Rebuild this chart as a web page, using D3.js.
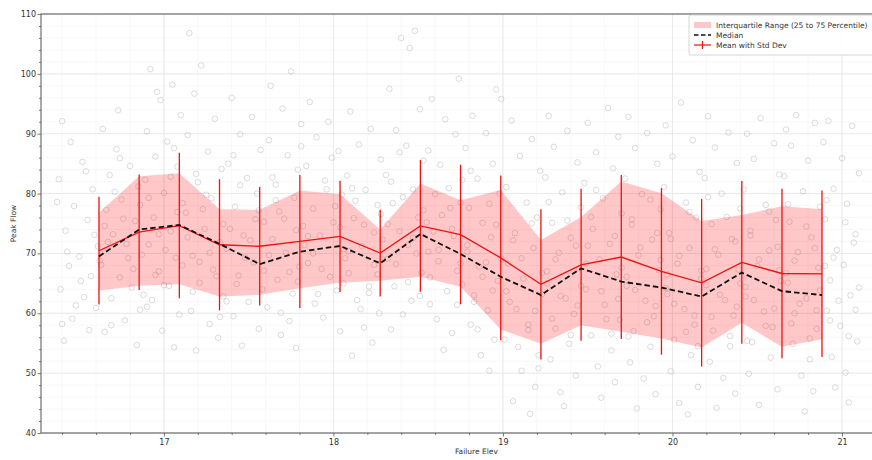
<!DOCTYPE html>
<html><head><meta charset="utf-8">
<script src="https://cdn.jsdelivr.net/npm/d3@7"></script>
<style>
html,body{margin:0;padding:0;background:#fff;}
svg{display:block;font-family:"DejaVu Sans",sans-serif;}
</style></head>
<body><svg id="chart" width="872" height="460"></svg>
<script>
// ---- data ----
const binCenters = [16.617,16.854,17.091,17.328,17.565,17.802,18.039,18.276,18.513,18.750,18.987,19.224,19.461,19.698,19.935,20.172,20.409,20.646,20.882];
const meanVals   = [70.45,73.55,74.65,71.45,71.2,72.0,72.85,70.05,74.6,73.15,69.25,64.85,68.1,69.4,67.0,65.1,68.5,66.65,66.6];
const stdVals    = [9.0,9.65,12.15,10.95,9.9,11.1,9.3,7.25,11.0,11.65,13.75,12.55,12.7,13.7,13.9,14.0,13.6,14.15,13.9];
const medianVals = [69.5,74.0,74.75,71.6,68.2,70.3,71.25,68.35,73.25,69.9,66.1,63.05,67.5,65.3,64.3,62.8,66.8,63.7,63.05];
const q1Vals     = [63.8,64.6,64.85,62.8,63.1,64.2,65.1,65.45,66.1,64.45,57.3,54.9,58.0,56.9,55.8,54.3,58.4,54.4,55.65];
const q3Vals     = [76.8,82.9,83.4,77.4,77.3,80.5,79.9,74.0,81.7,78.9,80.6,72.25,76.1,82.0,80.05,75.4,76.4,77.9,77.4];
const xTicks = [17,18,19,20,21];
const yTicks = [40,50,60,70,80,90,100,110];
const legendLabels = ["Interquartile Range (25 to 75 Percentile)","Median","Mean with Std Dev"];
const points = [
[16.40,92.1],[16.45,88.6],[16.52,85.3],[16.38,82.4],[16.58,80.7],[16.47,77.9],[16.55,75.6],[16.42,73.8],[16.61,71.2],[16.50,69.5],[16.44,67.9],[16.57,66.2],[16.39,64.0],[16.53,62.7],[16.60,60.9],[16.46,59.1],[16.56,57.2],[16.41,55.4],
[16.64,90.8],[16.72,87.4],[16.80,84.6],[16.68,83.1],[16.85,81.2],[16.75,79.0],[16.66,77.3],[16.83,75.4],[16.70,73.2],[16.78,71.6],[16.87,69.8],[16.63,68.1],[16.74,66.0],[16.81,64.3],[16.69,62.5],[16.86,60.6],[16.77,58.8],[16.65,56.9],[16.84,54.7],[16.73,93.9],
[16.92,100.8],[17.05,98.2],[16.98,95.6],[17.10,93.1],[16.90,90.4],[17.02,88.7],[16.95,86.2],[17.08,84.5],[16.89,82.3],[17.00,80.1],[17.11,78.4],[16.94,76.0],[17.04,73.7],[16.91,71.5],[17.07,69.3],[16.97,67.0],[17.03,64.6],[16.93,62.2],[17.09,59.8],[16.99,57.1],[17.06,54.3],[16.96,97.0],
[17.15,106.8],[17.22,101.4],[17.18,96.7],[17.30,92.5],[17.14,89.8],[17.26,87.0],[17.34,84.1],[17.20,81.9],[17.28,79.2],[17.13,76.8],[17.24,74.1],[17.33,71.9],[17.17,69.6],[17.29,67.3],[17.21,65.1],[17.35,62.8],[17.16,60.4],[17.27,58.2],[17.32,55.9],[17.19,53.8],
[17.40,96.0],[17.52,92.8],[17.45,89.9],[17.57,87.3],[17.38,85.0],[17.49,82.6],[17.55,80.0],[17.42,77.8],[17.59,75.3],[17.47,73.0],[17.37,70.8],[17.53,68.5],[17.44,66.3],[17.58,64.0],[17.50,61.9],[17.41,59.5],[17.56,57.4],[17.46,54.6],
[17.63,98.0],[17.75,100.4],[17.70,94.2],[17.81,91.6],[17.62,88.9],[17.73,86.4],[17.79,84.0],[17.66,81.5],[17.77,79.3],[17.68,77.0],[17.82,74.6],[17.64,72.4],[17.72,70.1],[17.80,67.8],[17.67,65.6],[17.76,63.3],[17.61,61.0],[17.74,58.7],[17.69,56.4],[17.78,54.2],
[17.86,95.3],[17.97,92.0],[17.90,89.4],[18.03,87.1],[17.84,84.6],[17.95,82.2],[18.05,79.8],[17.88,77.5],[18.00,75.2],[17.92,73.0],[18.06,70.7],[17.85,68.4],[17.98,66.1],[18.02,63.8],[17.89,61.6],[17.94,59.3],[18.04,57.0],
[18.10,93.7],[18.22,90.8],[18.15,88.2],[18.28,85.7],[18.08,83.0],[18.19,80.6],[18.26,78.1],[18.12,75.9],[18.24,73.5],[18.17,71.2],[18.29,69.0],[18.09,66.7],[18.21,64.5],[18.14,62.2],[18.27,60.0],[18.18,57.6],[18.23,55.1],[18.11,52.9],
[18.40,106.0],[18.48,107.2],[18.45,104.3],[18.33,97.5],[18.51,94.1],[18.37,90.6],[18.43,88.0],[18.53,85.5],[18.31,83.1],[18.47,80.7],[18.35,78.4],[18.50,76.0],[18.39,73.7],[18.44,71.4],[18.32,69.1],[18.52,66.8],[18.36,64.5],[18.46,62.1],[18.41,59.8],[18.34,57.3],
[18.74,99.2],[18.58,95.8],[18.66,92.4],[18.72,89.9],[18.56,87.2],[18.63,84.8],[18.76,82.3],[18.60,79.9],[18.69,77.6],[18.55,75.2],[18.71,72.9],[18.62,70.6],[18.75,68.3],[18.57,66.0],[18.67,63.7],[18.73,61.4],[18.61,59.0],[18.70,56.7],[18.65,53.9],
[18.96,97.4],[18.99,95.8],[18.82,93.0],[18.90,90.1],[18.78,87.6],[18.94,85.0],[18.85,82.5],[18.98,80.0],[18.80,77.6],[18.88,75.1],[18.93,72.7],[18.79,70.3],[18.86,67.8],[18.97,65.4],[18.83,63.0],[18.91,60.5],[18.81,58.1],[18.95,55.6],[18.87,53.0],[18.92,50.4],
[19.05,92.2],[19.17,89.1],[19.10,86.3],[19.22,83.8],[19.02,81.1],[19.14,78.5],[19.20,76.0],[19.07,73.4],[19.18,70.9],[19.03,68.3],[19.12,65.8],[19.23,63.2],[19.08,60.7],[19.15,58.1],[19.01,55.6],[19.21,53.0],[19.11,50.4],[19.19,47.7],[19.06,45.3],[19.16,43.2],
[19.27,93.0],[19.38,90.5],[19.30,87.8],[19.44,85.2],[19.25,82.7],[19.35,80.2],[19.46,77.7],[19.29,75.1],[19.40,72.6],[19.33,70.1],[19.45,67.5],[19.26,65.0],[19.37,62.5],[19.42,59.9],[19.31,57.4],[19.39,54.9],[19.28,52.3],[19.43,49.6],[19.34,46.8],[19.36,44.5],
[19.62,94.3],[19.50,91.8],[19.68,89.5],[19.55,86.9],[19.65,84.2],[19.48,81.8],[19.59,79.2],[19.70,76.7],[19.53,74.1],[19.63,71.6],[19.57,69.0],[19.67,66.5],[19.49,64.0],[19.60,61.4],[19.69,58.9],[19.52,56.3],[19.64,53.8],[19.56,51.1],[19.66,48.5],[19.58,45.9],
[19.74,92.8],[19.85,90.1],[19.78,87.6],[19.91,85.0],[19.72,82.5],[19.82,79.9],[19.93,77.4],[19.76,74.8],[19.88,72.3],[19.80,69.7],[19.92,67.2],[19.73,64.6],[19.84,62.1],[19.89,59.5],[19.77,57.0],[19.87,54.4],[19.75,51.8],[19.83,49.1],[19.90,46.5],[19.79,44.1],
[20.05,95.2],[19.96,91.4],[20.12,88.9],[20.00,86.2],[20.16,83.6],[19.95,81.1],[20.08,78.5],[20.14,76.0],[19.98,73.4],[20.10,70.9],[20.03,68.3],[20.17,65.8],[19.97,63.2],[20.07,60.7],[20.13,58.1],[20.01,55.6],[20.11,53.0],[19.99,50.3],[20.15,47.7],[20.04,45.0],[20.09,43.1],
[20.21,92.9],[20.33,90.2],[20.25,87.7],[20.38,85.1],[20.19,82.6],[20.29,80.0],[20.40,77.5],[20.23,74.9],[20.35,72.4],[20.27,69.8],[20.39,67.3],[20.20,64.7],[20.31,62.2],[20.36,59.6],[20.24,57.1],[20.34,54.5],[20.22,51.9],[20.30,49.2],[20.37,46.6],[20.26,44.2],
[20.52,92.6],[20.44,90.0],[20.60,88.4],[20.48,85.8],[20.63,83.2],[20.42,80.7],[20.55,78.1],[20.61,75.6],[20.46,73.0],[20.57,70.5],[20.50,67.9],[20.64,65.4],[20.43,62.8],[20.54,60.3],[20.59,57.7],[20.47,55.2],[20.58,52.6],[20.45,49.9],[20.62,47.3],[20.51,44.7],
[20.73,93.1],[20.67,90.7],[20.84,91.8],[20.70,88.0],[20.80,85.5],[20.66,82.9],[20.77,80.4],[20.87,77.8],[20.69,75.3],[20.82,72.7],[20.74,70.2],[20.86,67.6],[20.68,65.1],[20.79,62.5],[20.72,60.0],[20.85,57.4],[20.71,54.9],[20.81,52.3],[20.76,49.6],[20.83,47.0],[20.78,43.6],
[20.92,92.1],[21.06,91.3],[20.89,88.6],[21.00,85.9],[21.10,83.4],[20.95,80.8],[21.03,78.3],[20.90,75.7],[21.08,73.2],[20.97,70.6],[21.01,68.1],[20.93,65.5],[21.05,63.0],[20.91,60.4],[20.99,57.9],[21.09,55.3],[20.94,52.7],[21.02,50.1],[20.96,47.6],[21.04,45.1],
[16.43,70.3],[16.51,65.4],[16.59,73.1],[16.37,78.6],[16.48,61.3],[16.54,83.7],[16.62,68.8],[16.40,58.2],
[16.67,71.9],[16.76,75.8],[16.82,67.4],[16.71,80.3],[16.88,63.1],[16.65,74.6],[16.79,69.2],[16.74,85.9],[16.86,78.1],[16.69,58.0],
[16.91,79.3],[17.01,70.6],[17.08,76.9],[16.95,66.4],[17.04,82.8],[16.97,73.2],[17.11,68.0],[16.90,61.1],[17.06,87.6],[17.00,64.7],
[17.14,72.7],[17.23,77.4],[17.31,66.2],[17.19,83.3],[17.35,74.9],[17.27,70.1],[17.17,63.6],[17.25,79.8],[17.33,59.4],[17.21,68.6],
[17.39,74.1],[17.48,69.3],[17.56,77.2],[17.43,64.9],[17.51,72.2],[17.59,67.1],[17.45,81.4],[17.37,62.0],[17.54,75.7],[17.41,86.4],
[17.62,69.7],[17.71,75.8],[17.79,65.3],[17.66,78.9],[17.83,71.4],[17.74,66.9],[17.64,82.7],[17.78,73.9],[17.69,60.1],[17.81,87.9],
[17.85,72.9],[17.93,67.4],[18.01,77.9],[17.88,70.0],[18.06,65.0],[17.96,80.7],[18.04,74.4],[17.91,63.2],[17.99,86.0],[18.07,69.2],
[18.09,70.4],[18.18,74.8],[18.26,66.5],[18.13,78.8],[18.29,72.3],[18.21,63.4],[18.11,80.9],[18.24,68.1],[18.16,60.7],[18.28,76.6],
[18.32,74.9],[18.41,79.4],[18.49,70.0],[18.37,68.2],[18.53,77.2],[18.44,65.2],[18.34,82.0],[18.47,72.6],[18.39,86.9],[18.51,62.9],
[18.56,70.3],[18.64,76.4],[18.73,67.1],[18.59,73.7],[18.68,80.9],[18.76,64.8],[18.62,68.7],[18.70,74.1],[18.57,61.5],[18.75,78.5],
[18.79,71.4],[18.88,66.1],[18.96,74.8],[18.83,61.9],[18.92,78.3],[18.99,69.1],[18.85,57.3],[18.94,63.8],[18.81,83.8],[18.90,68.5],
[19.02,63.7],[19.11,69.2],[19.19,60.4],[19.06,72.2],[19.15,57.2],[19.23,66.7],[19.09,54.4],[19.17,75.0],[19.04,61.9],[19.21,50.8],
[19.26,67.0],[19.34,62.9],[19.43,71.3],[19.29,59.1],[19.38,75.5],[19.46,64.6],[19.31,69.0],[19.40,56.4],[19.27,78.6],[19.44,61.3],
[19.49,68.3],[19.58,63.7],[19.66,72.9],[19.52,76.1],[19.61,59.0],[19.70,67.6],[19.55,80.6],[19.64,56.6],[19.50,71.3],[19.68,62.4],
[19.73,66.1],[19.81,71.0],[19.90,61.2],[19.76,75.7],[19.85,58.5],[19.93,68.9],[19.78,63.9],[19.87,79.0],[19.74,56.1],[19.91,73.4],
[19.96,64.2],[20.04,69.6],[20.13,59.6],[19.99,72.4],[20.08,56.9],[20.17,67.1],[20.01,61.6],[20.10,76.9],[19.97,66.5],[20.15,54.5],
[20.20,67.4],[20.28,63.1],[20.37,72.0],[20.23,59.4],[20.32,76.1],[20.40,65.0],[20.25,70.7],[20.34,56.2],[20.21,79.4],[20.38,61.1],
[20.43,64.4],[20.51,69.0],[20.60,60.8],[20.46,73.8],[20.55,57.9],[20.63,67.2],[20.48,62.2],[20.57,77.0],[20.44,55.4],[20.62,71.1],
[20.67,66.7],[20.75,61.6],[20.84,70.9],[20.70,58.3],[20.79,74.5],[20.87,63.8],[20.72,68.8],[20.81,55.8],[20.68,78.2],[20.85,60.5],
[20.90,67.9],[20.98,62.1],[21.07,71.8],[20.93,58.8],[21.02,75.2],[21.10,64.3],[20.95,69.3],[21.04,56.2],[20.91,78.9],[21.08,60.6]
];

// ---- layout ----
const svg = d3.select("#chart");
const L = 41, T = 14, R = 880, B = 433;
const x = d3.scaleLinear().domain([16.275, 21.0]).range([L, 842]);
const y = d3.scaleLinear().domain([40, 110]).range([B, T]);
const xMax = x.invert(R);
const bins = binCenters.map((c,i)=>({x:c, mean:meanVals[i], std:stdVals[i], med:medianVals[i], q1:q1Vals[i], q3:q3Vals[i]}));

const defs = svg.append("defs");
defs.append("clipPath").attr("id","clip").append("rect").attr("x",L).attr("y",T).attr("width",R-L).attr("height",B-T);

// grid
const g = svg.append("g");
const xMinor = d3.range(16.4, xMax, 0.2).map(v=>+v.toFixed(2));
const yMinor = d3.range(40, 110.01, 2);
g.selectAll(".gxm").data(xMinor).join("line").attr("x1",d=>x(d)).attr("x2",d=>x(d)).attr("y1",T).attr("y2",B).attr("stroke","#f3f3f3").attr("stroke-width",0.6);
g.selectAll(".gym").data(yMinor).join("line").attr("x1",L).attr("x2",R).attr("y1",d=>y(d)).attr("y2",d=>y(d)).attr("stroke","#f3f3f3").attr("stroke-width",0.6);
g.selectAll(".gx").data(xTicks).join("line").attr("x1",d=>x(d)).attr("x2",d=>x(d)).attr("y1",T).attr("y2",B).attr("stroke","#e4e4e4").attr("stroke-width",0.8);
g.selectAll(".gy").data(yTicks).join("line").attr("x1",L).attr("x2",R).attr("y1",d=>y(d)).attr("y2",d=>y(d)).attr("stroke","#e4e4e4").attr("stroke-width",0.8);

const plot = svg.append("g").attr("clip-path","url(#clip)");
// scatter
plot.append("g").selectAll("circle").data(points).join("circle")
  .attr("cx",d=>x(d[0])).attr("cy",d=>y(d[1])).attr("r",2.8)
  .attr("fill","none").attr("stroke","#8a8a8a").attr("stroke-opacity",0.38).attr("stroke-width",0.8);

// IQR band
plot.append("path").datum(bins)
  .attr("d", d3.area().x(d=>x(d.x)).y0(d=>y(d.q1)).y1(d=>y(d.q3)))
  .attr("fill","#ff0000").attr("fill-opacity",0.22).attr("stroke","none");

// error bars
plot.append("g").selectAll("line").data(bins).join("line")
  .attr("x1",d=>x(d.x)).attr("x2",d=>x(d.x))
  .attr("y1",d=>y(d.mean-d.std)).attr("y2",d=>y(d.mean+d.std))
  .attr("stroke","#ee1111").attr("stroke-width",1.3);
// mean line
plot.append("path").datum(bins)
  .attr("d", d3.line().x(d=>x(d.x)).y(d=>y(d.mean)))
  .attr("fill","none").attr("stroke","#ee1111").attr("stroke-width",1.3);
// median
plot.append("path").datum(bins)
  .attr("d", d3.line().x(d=>x(d.x)).y(d=>y(d.med)))
  .attr("fill","none").attr("stroke","#111").attr("stroke-width",1.8).attr("stroke-dasharray","5.5,3");

// axes
const xAxis = svg.append("g").attr("transform",`translate(0,${B})`)
  .call(d3.axisBottom(x).tickValues(xTicks).tickFormat(d3.format("d")).tickSizeInner(3.5).tickSizeOuter(0));
const xAxisMinor = svg.append("g").attr("transform",`translate(0,${B})`)
  .call(d3.axisBottom(x).tickValues(xMinor.filter(v=>Math.abs(v-Math.round(v))>0.01)).tickFormat("").tickSizeInner(2).tickSizeOuter(0));
const yAxis = svg.append("g").attr("transform",`translate(${L},0)`)
  .call(d3.axisLeft(y).tickValues(yTicks).tickFormat(d3.format("d")).tickSizeInner(3.5).tickSizeOuter(0));
const yAxisMinor = svg.append("g").attr("transform",`translate(${L},0)`)
  .call(d3.axisLeft(y).tickValues(yMinor.filter(v=>v%10!==0)).tickFormat("").tickSizeInner(2).tickSizeOuter(0));
[xAxis,xAxisMinor,yAxis,yAxisMinor].forEach(a=>{
  a.select(".domain").remove();
  a.selectAll("line").attr("stroke","#555").attr("stroke-width",0.8);
  a.selectAll("text").attr("fill","#333").style("font-size","8px").style("font-family","DejaVu Sans");
});
yAxis.selectAll("text").attr("x",-5);
xAxis.selectAll("text").attr("y",6);

// frame
svg.append("rect").attr("x",L).attr("y",T).attr("width",R-L).attr("height",B-T)
  .attr("fill","none").attr("stroke","#555").attr("stroke-width",1);

// axis labels
svg.append("text").attr("x",x(19)-48).attr("y",454).attr("fill","#333").style("font-size","7.5px").text("Failure Elev");
svg.append("text").attr("transform",`translate(16,${(T+B)/2}) rotate(-90)`).attr("text-anchor","middle").attr("fill","#333").style("font-size","7.5px").text("Peak Flow");

// legend
const lg = svg.append("g").attr("transform","translate(689,15)");
lg.append("rect").attr("x",0).attr("y",0).attr("width",200).attr("height",40).attr("fill","#fff").attr("fill-opacity",0.9).attr("stroke","#cccccc").attr("stroke-width",0.8).attr("rx",2);
const rows = [10,20,30];
lg.append("rect").attr("x",5).attr("y",rows[0]-3).attr("width",17).attr("height",6).attr("fill","#ff0000").attr("fill-opacity",0.22);
lg.append("line").attr("x1",5).attr("x2",22).attr("y1",rows[1]).attr("y2",rows[1]).attr("stroke","#111").attr("stroke-width",1.6).attr("stroke-dasharray","4.5,2.5");
lg.append("line").attr("x1",5).attr("x2",22).attr("y1",rows[2]).attr("y2",rows[2]).attr("stroke","#ee1111").attr("stroke-width",1.2);
lg.append("line").attr("x1",13.5).attr("x2",13.5).attr("y1",rows[2]-4).attr("y2",rows[2]+4).attr("stroke","#ee1111").attr("stroke-width",1.2);
lg.selectAll(".lt").data(legendLabels).join("text").attr("x",27).attr("y",(d,i)=>rows[i]).attr("dy","0.35em")
  .attr("fill","#333").style("font-size","7.5px").text(d=>d);
</script></body></html>
